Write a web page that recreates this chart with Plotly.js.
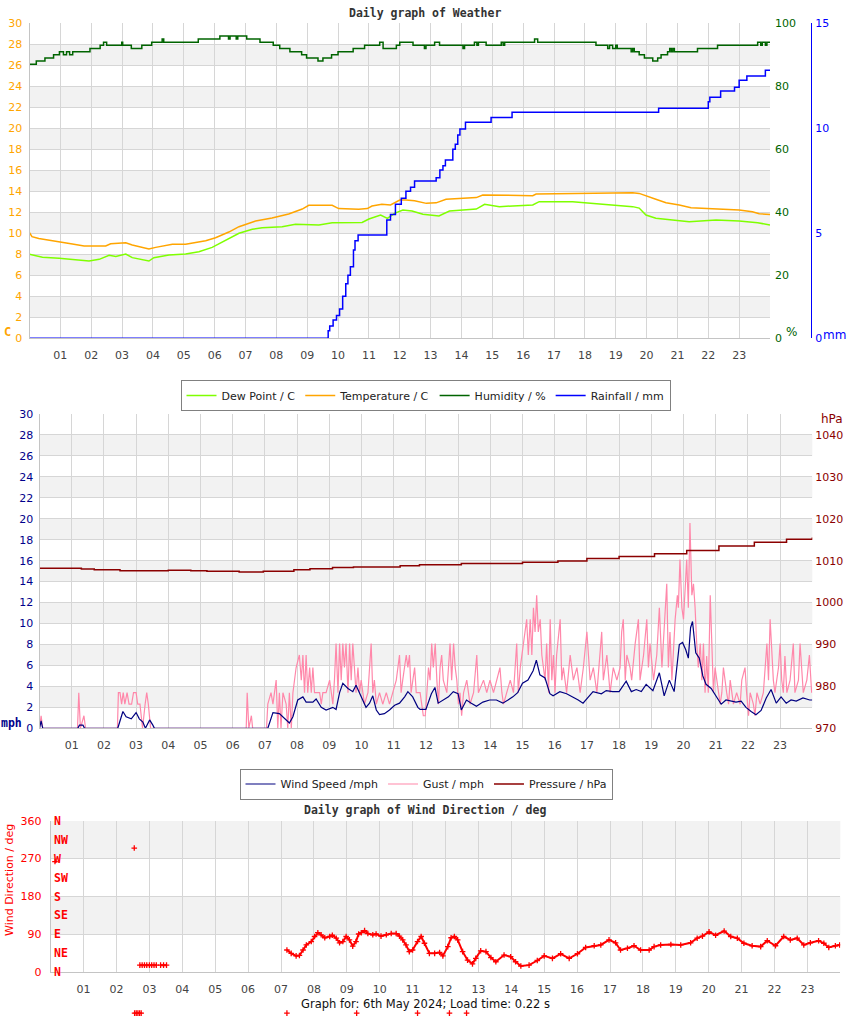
<!DOCTYPE html>
<html><head><meta charset="utf-8">
<script src="https://cdn.plot.ly/plotly-3.0.1.min.js"></script>
<style>html,body{margin:0;padding:0;background:#fff}</style>
</head><body><div id="chart" style="width:850px;height:1017px"></div>
<script>
// ---------- DATA ----------
const hourVals = [0,1,2,3,4,5,6,7,8,9,10,11,12,13,14,15,16,17,18,19,20,21,22,23,24];
const hourLabels = ['','01','02','03','04','05','06','07','08','09','10','11','12','13','14','15','16','17','18','19','20','21','22','23',''];

// Chart 1 : weather
const tempH = [0,0.08,0.3,0.64,0.96,1.39,1.77,2.47,2.63,3.12,3.33,3.66,3.87,4.09,4.41,4.63,5.06,5.38,5.71,6.03,6.46,6.79,7.33,7.86,8.4,8.84,9.05,9.81,10.02,10.67,10.95,11.1,11.42,11.7,12.0,12.2,12.48,12.86,13.18,13.5,13.94,14.48,14.69,15.56,16.31,16.42,17.6,18.47,19.55,19.76,19.98,20.3,20.63,21.06,21.44,22.25,23.0,23.43,23.65,24];
const tempC = [10.06,9.68,9.5,9.36,9.17,8.98,8.79,8.79,9.01,9.1,8.89,8.63,8.5,8.66,8.82,8.95,8.95,9.1,9.3,9.58,10.12,10.63,11.17,11.46,11.84,12.31,12.66,12.66,12.35,12.28,12.35,12.6,12.76,12.7,13.17,13.17,13.1,12.85,12.9,13.24,13.33,13.4,13.65,13.62,13.58,13.74,13.81,13.87,13.87,13.8,13.55,13.24,12.91,12.7,12.44,12.35,12.22,12.06,11.87,11.78];

const dewH = [0,0.42,0.96,1.39,1.93,2.26,2.58,2.8,3.12,3.33,3.66,3.87,4.03,4.52,5.06,5.49,5.92,6.36,6.79,7.22,7.54,8.19,8.62,9.38,9.81,10.78,11.0,11.38,11.6,11.83,12.1,12.4,12.75,13.27,13.61,14.05,14.48,14.75,15.23,16.31,16.52,17.6,18.47,19.55,19.76,19.98,20.3,20.63,21.38,22.25,23.0,23.6,24];
const dewC = [8.0,7.71,7.62,7.52,7.36,7.52,7.9,7.8,8.03,7.68,7.46,7.36,7.68,7.93,8.03,8.25,8.66,9.3,10.0,10.38,10.53,10.63,10.86,10.79,11.01,11.04,11.36,11.74,11.42,11.9,12.22,12.12,11.81,11.65,12.12,12.22,12.31,12.76,12.54,12.7,13.01,13.01,12.79,12.54,12.4,11.74,11.43,11.33,11.11,11.27,11.17,11.01,10.79];

const humH = [0,0.22,0.5,0.78,0.97,1.1,1.2,1.3,1.4,1.96,2.29,2.4,2.5,2.99,3.02,3.3,3.64,3.96,4.3,4.35,5.47,6.17,6.45,6.5,6.7,6.75,7.04,7.47,7.9,8.11,8.44,8.82,8.98,9.35,9.51,9.79,10.0,10.49,10.86,11.35,11.46,11.89,12.0,12.43,12.8,12.85,13.13,13.29,14.05,14.1,14.42,14.5,14.55,14.8,15.29,15.35,15.4,16.37,16.47,18.36,18.74,18.8,18.9,19.0,19.05,19.5,19.55,19.6,19.76,19.93,20.2,20.36,20.47,20.68,20.75,20.8,20.85,20.9,21.65,22.3,23.6,23.7,23.75,23.85,23.9,24];
const humPct = [87,88,89,90,91,90,91,90,91,92,93,94,93,94,93,92,93,94,95,94,95,96,95,96,95,96,95,94,93,92,91,90,89,88,89,90,91,92,93,94,92,93,94,93,92,93,94,93,92,93,94,93,94,93,94,93,94,95,94,93,92,93,92,93,92,91,92,91,90,89,88,89,90,91,92,91,92,91,92,93,94,93,94,93,94,94];

const rainH = [0,9.57,9.68,9.73,9.84,9.95,10.05,10.15,10.25,10.32,10.4,10.5,10.55,10.65,11.58,11.7,11.86,12.05,12.2,12.35,12.48,13.18,13.3,13.4,13.48,13.72,13.8,13.88,13.95,14.13,14.96,15.64,20.39,22.0,22.05,22.4,22.85,23.0,23.25,23.85,24];
const rainMM = [0,0,0.36,0.59,0.87,1.08,1.4,2.0,2.6,3.0,3.41,4.2,4.65,4.92,5.63,5.9,6.38,6.67,7.0,7.19,7.49,7.65,8.01,8.22,8.49,9.0,9.24,9.68,9.97,10.29,10.52,10.76,10.95,11.27,11.48,11.78,11.95,12.29,12.49,12.76,12.76];

// Chart 2 : wind / pressure
const windH = [0,0.05,0.1,1.19,1.24,1.35,1.4,2.43,2.59,2.69,2.85,3.0,3.1,3.21,3.29,3.42,3.52,3.57,7.09,7.25,7.45,7.61,7.76,7.87,8.02,8.18,8.28,8.49,8.59,8.75,8.9,9.11,9.21,9.32,9.42,9.58,9.73,9.83,9.99,10.14,10.25,10.35,10.46,10.56,10.71,10.87,11.03,11.18,11.34,11.44,11.59,11.75,11.82,12.0,12.17,12.28,12.38,12.54,12.7,12.85,13.0,13.1,13.26,13.41,13.57,13.77,13.98,14.19,14.39,14.55,14.7,14.85,15.0,15.17,15.33,15.43,15.54,15.7,15.85,15.95,16.16,16.37,16.57,16.73,16.88,17.04,17.19,17.45,17.6,17.8,18.0,18.22,18.38,18.53,18.69,18.84,19.05,19.25,19.4,19.56,19.71,19.87,19.97,20.07,20.15,20.22,20.28,20.38,20.49,20.6,20.7,20.86,21.01,21.17,21.32,21.48,21.63,21.79,21.94,22.1,22.25,22.41,22.57,22.72,22.88,23.03,23.19,23.34,23.5,23.71,23.92,24];
const windMph = [0,0.7,0,0,0.3,0.3,0,0,1.6,1.1,0.9,1.5,0.9,0.6,0,0.8,0.3,0,0,1.5,1.4,0.95,0.5,1.1,2.7,3.0,2.5,2.5,2.8,2.0,1.75,2.0,1.8,3.4,4.3,3.8,3.5,4.1,3.0,2.0,2.4,3.1,1.75,1.3,1.4,1.75,2.2,2.4,3.0,3.5,3.0,2.0,1.8,1.8,3.3,3.9,2.4,2.7,3.0,3.5,3.3,1.75,2.7,2.4,2.1,2.5,2.7,2.7,2.4,2.7,3.0,3.4,4.3,4.6,5.5,6.5,5.1,4.8,3.3,3.1,3.5,3.3,3.0,2.7,2.4,3.0,3.5,3.3,3.6,3.5,3.5,4.5,3.5,3.7,3.5,4.2,3.6,5.3,3.1,4.6,3.5,8.0,8.2,7.5,6.7,9.6,10.2,7.2,6.7,5.0,4.2,3.8,3.1,2.3,2.7,2.6,2.5,2.6,2.0,1.6,1.3,1.7,2.9,3.7,2.4,3.0,2.4,2.7,2.6,2.9,2.7,2.7];

const gustH = [0,0.05,0.1,1.18,1.22,1.27,1.38,1.43,2.42,2.45,2.5,2.55,2.6,2.65,2.72,2.78,2.86,2.92,3.0,3.05,3.12,3.2,3.28,3.33,3.38,3.45,6.42,6.45,6.5,6.58,6.62,7.05,
7.09,7.19,7.25,7.3,7.35,7.4,7.45,7.5,7.56,7.66,7.71,7.76,7.82,7.87,7.97,8.07,8.13,8.18,8.23,8.28,8.33,8.39,8.44,8.49,8.54,8.7,8.75,8.8,8.9,9.01,9.11,9.16,9.21,9.27,9.32,9.37,9.42,9.47,9.52,9.58,9.63,9.68,9.73,9.78,9.83,9.89,9.94,9.99,10.09,10.2,10.3,10.35,10.4,10.46,10.56,10.66,10.77,10.87,10.97,11.08,11.18,11.23,11.28,11.39,11.44,11.49,11.54,11.65,11.7,
11.82,11.92,11.98,12.03,12.08,12.13,12.18,12.23,12.29,12.34,12.39,12.44,12.49,12.54,12.65,12.75,12.8,12.86,12.91,12.96,13.01,13.06,13.11,13.17,13.27,13.37,13.48,13.58,13.63,13.79,13.89,13.99,14.1,14.2,14.3,14.36,14.41,14.51,14.62,14.72,14.82,14.87,14.93,15.03,15.08,15.13,15.18,15.24,15.29,15.34,15.39,15.44,15.49,15.55,15.6,15.65,15.7,15.75,15.81,15.86,15.91,15.96,16.01,16.06,16.17,16.22,16.27,16.37,16.48,16.58,16.69,16.79,16.89,17.0,17.1,17.2,17.31,17.46,17.51,17.62,17.72,17.82,17.93,18.03,18.08,18.13,18.19,18.24,18.34,18.39,18.5,18.6,18.65,18.76,18.86,18.91,18.96,19.07,19.17,19.25,19.33,19.48,19.53,19.58,19.64,19.74,19.81,19.84,19.89,19.95,20.0,20.1,20.15,20.2,20.26,20.31,20.36,20.41,20.46,20.52,20.57,20.62,20.67,20.72,20.77,20.83,20.88,20.93,20.98,21.03,21.09,21.14,21.19,21.24,21.34,21.4,21.45,21.55,21.65,21.76,21.81,21.91,21.96,22.02,22.07,22.17,22.22,22.28,22.38,22.48,22.59,22.64,22.69,22.74,22.79,22.84,22.95,23.0,23.05,23.1,23.15,23.21,23.31,23.41,23.46,23.57,23.62,23.72,23.83,23.91,23.98];
const gustMph = [0,1.2,0,0,3.4,0,1.2,0,0,3.4,3.4,2.3,3.4,2.3,3.4,2.3,2.3,3.4,3.4,2.3,2.3,0,2.3,3.4,2.3,0,0,3.4,0,1.2,0,0,
2.3,3.4,2.3,3.4,4.6,0,3.4,0,3.4,2.3,0,3.4,0,3.4,5.8,7.0,4.6,7.0,3.4,7.0,3.4,5.8,3.4,5.8,3.4,3.4,2.3,3.4,3.4,4.6,2.3,4.6,8.1,3.4,8.1,4.6,8.1,5.8,8.1,3.4,8.1,4.6,8.1,5.8,3.4,5.8,3.4,4.6,2.3,3.4,8.1,3.4,4.6,2.3,3.4,2.3,3.4,2.3,3.4,4.6,7.0,3.4,4.6,7.0,5.8,7.0,3.4,5.8,3.4,
3.4,1.2,1.2,3.4,5.8,4.6,8.1,5.8,8.1,4.6,2.3,5.8,7.0,4.6,3.4,8.1,4.6,8.1,5.8,4.6,2.3,3.4,1.2,3.4,4.6,2.3,3.4,7.0,3.4,4.6,3.4,4.6,3.4,4.6,5.8,3.4,2.3,3.4,4.6,3.4,8.1,3.4,5.8,8.1,9.2,10.4,7.0,10.4,7.0,11.5,9.2,12.7,9.2,10.4,7.0,5.8,4.6,8.1,3.4,10.4,4.6,7.0,3.4,7.0,10.4,4.6,5.8,3.4,7.0,4.6,5.8,3.4,5.8,9.2,4.6,5.8,3.4,9.2,4.6,7.0,3.4,5.8,4.6,5.8,9.2,10.4,4.6,7.0,5.8,4.6,8.1,10.4,4.6,7.0,10.4,5.8,8.1,4.6,7.0,11.5,5.8,13.8,5.8,9.2,4.6,10.4,12.7,11.5,16.1,11.5,10.4,16.1,11.5,19.6,12.7,13.8,11.5,8.1,5.8,8.1,4.6,8.1,3.4,6.9,3.4,12.7,8.1,3.4,5.8,4.6,3.4,2.3,3.4,5.8,3.4,2.3,4.6,2.3,3.4,2.3,4.6,5.8,3.4,1.2,3.4,2.3,1.2,3.4,2.3,3.4,8.1,4.6,10.4,7.0,4.6,3.4,5.8,8.1,4.6,3.4,6.9,3.4,4.6,8.1,3.4,4.6,8.1,3.4,4.6,7.0,3.4];

const presH = [0,1.3,1.7,2.5,4.0,4.7,5.2,6.2,6.95,7.9,8.4,9.1,9.75,11.2,11.8,13.1,15.0,16.1,17.0,18.0,19.1,20.1,21.1,22.2,23.2,24];
const presHPa = [1008.2,1008.0,1007.85,1007.6,1007.7,1007.6,1007.45,1007.3,1007.45,1007.85,1008.1,1008.4,1008.5,1008.8,1009.05,1009.3,1009.6,1009.9,1010.5,1011.0,1011.65,1012.45,1013.5,1014.4,1015.1,1015.5];
const presTicks = [970,980,990,1000,1010,1020,1030,1040];

// Chart 3 : wind direction (null = gap in the record)
const dirH = [0.13,0.3,2.54,2.6,2.71,2.78,2.85,2.92,3.0,3.07,3.14,3.21,3.27,3.34,3.43,3.52,5.0,
7.18,7.31,7.46,7.56,7.67,7.77,7.92,8.02,8.12,8.22,8.33,8.48,8.56,8.68,8.78,8.88,8.98,9.08,9.18,9.28,9.36,9.44,9.54,9.64,9.79,9.89,10.04,10.2,10.35,10.5,10.6,10.7,10.8,10.9,11.0,11.15,11.26,11.36,11.51,11.67,11.82,11.92,12.07,12.17,12.27,12.37,12.52,12.67,12.82,12.92,13.07,13.23,13.38,13.53,13.78,13.98,14.13,14.29,14.54,14.79,15.0,15.25,15.5,15.76,16.01,16.26,16.52,16.72,16.97,17.17,17.32,17.53,17.73,17.93,18.19,18.34,18.54,18.85,19.15,19.45,19.65,19.81,20.01,20.21,20.47,20.67,20.87,21.07,21.32,21.58,21.78,22.03,22.28,22.48,22.69,22.89,23.09,23.34,23.5,23.65,23.85,23.98];
const dirDeg = [263,null,295,null,17,17,17,17,17,17,17,17,null,17,17,17,null,
53,45,39,40,53,65,73,85,94,89,82,85,88,81,70,73,85,77,62,73,91,94,99,92,89,91,86,89,92,92,86,77,65,49,53,73,85,69,45,45,47,39,61,82,85,77,49,29,20,33,51,49,35,25,41,37,25,15,17,28,39,33,44,33,44,59,63,65,77,70,53,57,63,53,53,61,65,66,65,70,81,86,96,88,98,85,81,69,63,61,75,63,85,77,81,65,70,75,69,59,63,65];
const dirOutH = [2.55,2.6,2.65,2.7,2.75,7.18,9.3,11.15,12.12,12.64];
const dirOutDeg = [-97,-97,-97,-97,-97,-97,-97,-97,-97,-97];
const compassVals = [0,45,90,135,180,225,270,315,360];
const compassLabels = ['N','NE','E','SE','S','SW','W','NW','N'];
const degTicks = [0,90,180,270,360];

// ---------- LAYOUT ----------
const W = 850, H = 1017;
const px = x => x / W, py = y => 1 - y / H;
const GRID = '#d6d6d6', AXL = '#c4c4c4', BAND = '#f2f2f2';
const TICKX = {size: 11, color: '#444', family: 'DejaVu Sans'};

function xAxis(l, r, anchor) {
  return {domain: [px(l), px(r)], range: [0, 24], anchor: anchor, tickmode: 'array',
    tickvals: hourVals, ticktext: hourLabels, showgrid: true, gridcolor: GRID, gridwidth: 1,
    showline: true, linecolor: AXL, ticks: '', zeroline: false, tickfont: TICKX,
    ticklabelstandoff: 6, fixedrange: true};
}

const shapes = [];
function bands(xref, yref, lo, hi, step) {
  for (let v = lo; v < hi; v += 2 * step) {
    shapes.push({type: 'rect', xref: xref + ' domain', yref: yref,
      x0: 0, x1: 1, y0: v, y1: v + step, fillcolor: BAND, line: {width: 0}, layer: 'below'});
  }
}

function note(text, x, y, font, extra) {
  return Object.assign({text: text, xref: 'paper', yref: 'paper', x: px(x), y: py(y),
    xanchor: 'center', yanchor: 'middle', showarrow: false, font: font}, extra || {});
}
const MONO = 'DejaVu Sans Mono';

const annotations = [
  note('<b>Daily graph of Weather</b>', 425, 13, {family: MONO, size: 11.5, color: '#333'}),
  note('<b>Daily graph of Wind Direction / deg</b>', 425, 810, {family: MONO, size: 11.5, color: '#333'}),
  note('<b>C</b>', 8, 332, {family: MONO, size: 12, color: '#ffa500'}),
  note('%', 791, 332, {size: 12, color: '#006400'}),
  note('mm', 834, 335, {size: 12, color: '#0000ff'}),
  note('<b>mph</b>', 11, 723, {family: MONO, size: 11.5, color: '#00008b'}),
  note('hPa', 832, 419, {size: 12, color: '#8b0000'}),
  note('Wind Direction / deg', 9, 880, {size: 11, color: '#ff0000'}, {textangle: -90}),
  note('Graph for: 6th May 2024; Load time: 0.22 s', 425, 1004, {size: 11.5, color: '#111'})
];
// compass labels placed on the direction axis scale
compassVals.forEach((v, i) => annotations.push({text: '<b>' + compassLabels[i] + '</b>',
  xref: 'paper', yref: 'y6', x: px(52), y: v, xanchor: 'left', yanchor: 'middle', showarrow: false,
  font: {family: MONO, size: 11.5, color: '#ff0000'}}));

const layout = {
  width: W, height: H, margin: {l: 0, r: 0, t: 0, b: 0},
  paper_bgcolor: '#fff', plot_bgcolor: 'rgba(0,0,0,0)',
  font: {family: 'DejaVu Sans', size: 11, color: '#444'},
  hovermode: false,
  xaxis: xAxis(29.5, 770, 'y'),
  yaxis: {domain: [py(338.3), py(23.3)], range: [0, 30], dtick: 2, tick0: 0, anchor: 'x',
    showgrid: true, gridcolor: GRID, showline: true, linecolor: AXL, zeroline: false, ticks: '',
    tickfont: {size: 11, color: '#ffa500'}, ticklabelstandoff: 4},
  yaxis2: {overlaying: 'y', side: 'right', anchor: 'x', range: [0, 100], dtick: 20,
    showgrid: false, zeroline: false, ticks: '', tickfont: {size: 11, color: '#006400'}, ticklabelstandoff: 4},
  yaxis3: {overlaying: 'y', side: 'right', anchor: 'free', position: px(811), range: [0, 15], dtick: 5,
    showgrid: false, zeroline: false, showline: true, linecolor: '#0000ff', ticks: '',
    tickfont: {size: 11, color: '#0000ff'}, ticklabelstandoff: 1},

  xaxis2: xAxis(39.5, 812.3, 'y4'),
  yaxis4: {domain: [py(728.3), py(414)], range: [0, 30], dtick: 2, tick0: 0, anchor: 'x2',
    showgrid: true, gridcolor: GRID, showline: true, linecolor: AXL, zeroline: false, ticks: '',
    tickfont: {size: 11, color: '#00008b'}, ticklabelstandoff: 3},
  yaxis5: {overlaying: 'y4', side: 'right', anchor: 'x2', range: [970, 1045], tickmode: 'array',
    tickvals: presTicks, showgrid: false, zeroline: false, ticks: '',
    tickfont: {size: 11, color: '#8b0000'}, ticklabelstandoff: 2},

  xaxis3: xAxis(50.7, 840.3, 'y6'),
  yaxis6: {domain: [py(972.3), py(820.7)], range: [0, 360], tickmode: 'array', tickvals: degTicks,
    anchor: 'x3', showgrid: true, gridcolor: GRID, showline: true, linecolor: AXL, zeroline: false,
    ticks: '', tickfont: {size: 11, color: '#ff0000'}, ticklabelstandoff: 6},
  xaxis4: {domain: [px(50.7), px(840.3)], range: [0, 24], anchor: 'y8', visible: false},
  yaxis8: {domain: [0, py(820.7)], range: [-360 * (1017 - 972.3) / (972.3 - 820.7), 360], anchor: 'x4', visible: false},

  legend: {orientation: 'h', x: px(425.5), xanchor: 'center', y: py(395.5), yanchor: 'middle',
    bgcolor: '#fff', bordercolor: '#808080', borderwidth: 1, font: {size: 11, color: '#222'}, itemwidth: 30},
  legend2: {orientation: 'h', x: px(426), xanchor: 'center', y: py(784), yanchor: 'middle',
    bgcolor: '#fff', bordercolor: '#808080', borderwidth: 1, font: {size: 11, color: '#222'}, itemwidth: 30},
  shapes: shapes,
  annotations: annotations
};
bands('x', 'y', 2, 30, 2);
bands('x2', 'y4', 2, 30, 2);
bands('x3', 'y6', 90, 360, 90);

// ---------- TRACES ----------
const CROSS = {symbol: 'cross-thin', size: 4, color: '#ff0000', line: {color: '#ff0000', width: 1.3}};
const traces = [
  {x: dewH, y: dewC, xaxis: 'x', yaxis: 'y', mode: 'lines', name: 'Dew Point / C',
    line: {color: '#7fff00', width: 1.5}, legend: 'legend'},
  {x: tempH, y: tempC, xaxis: 'x', yaxis: 'y', mode: 'lines', name: 'Temperature / C',
    line: {color: '#ffa500', width: 1.5}, legend: 'legend'},
  {x: humH, y: humPct, xaxis: 'x', yaxis: 'y2', mode: 'lines', name: 'Humidity / %',
    line: {color: '#006400', width: 1.5, shape: 'hv'}, legend: 'legend'},
  {x: rainH, y: rainMM, xaxis: 'x', yaxis: 'y3', mode: 'lines', name: 'Rainfall / mm',
    line: {color: '#0000ff', width: 1.5, shape: 'hv'}, legend: 'legend'},

  {x: gustH, y: gustMph, xaxis: 'x2', yaxis: 'y4', mode: 'lines', name: 'Gust / mph',
    line: {color: '#ff88aa', width: 1.2}, legend: 'legend2', legendrank: 2},
  {x: windH, y: windMph, xaxis: 'x2', yaxis: 'y4', mode: 'lines', name: 'Wind Speed /mph',
    line: {color: '#000080', width: 1.2}, legend: 'legend2', legendrank: 1},
  {x: presH, y: presHPa, xaxis: 'x2', yaxis: 'y5', mode: 'lines', name: 'Pressure / hPa',
    line: {color: '#8b0000', width: 1.5, shape: 'hv'}, legend: 'legend2', legendrank: 3},

  {x: dirH, y: dirDeg, xaxis: 'x3', yaxis: 'y6', mode: 'lines+markers', name: 'Wind Direction / deg',
    line: {color: '#ff0000', width: 2}, connectgaps: false, marker: CROSS, showlegend: false},
  {x: dirOutH, y: dirOutDeg, xaxis: 'x4', yaxis: 'y8', mode: 'markers', showlegend: false, marker: CROSS}
];

Plotly.newPlot('chart', traces, layout, {staticPlot: true, displayModeBar: false});
</script></body></html>
